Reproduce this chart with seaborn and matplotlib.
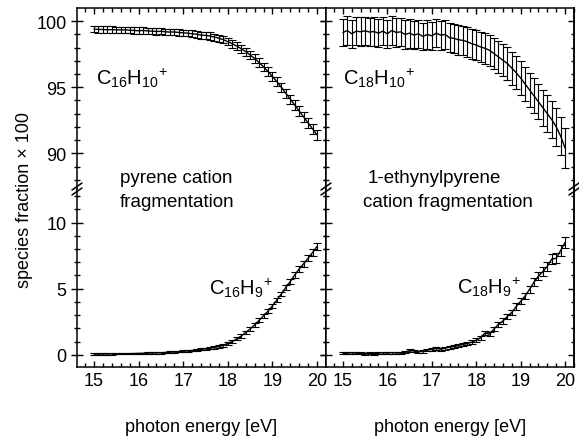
import numpy as np
import pandas as pd
import seaborn as sns
import matplotlib.pyplot as plt
from matplotlib.ticker import MultipleLocator
from matplotlib.lines import Line2D

# photon energy grid [eV]
energy = np.round(np.linspace(15, 20, 51), 1)

# pyrene cation: parent C16H10+ and fragment C16H9+
pyr_parent = [99.40, 99.38, 99.37, 99.36, 99.36, 99.35, 99.34, 99.35, 99.32, 99.30,
              99.28, 99.30, 99.27, 99.25, 99.22, 99.24, 99.20, 99.18, 99.19, 99.15,
              99.12, 99.10, 99.05, 99.02, 98.95, 98.93, 98.88, 98.80, 98.72, 98.60,
              98.45, 98.30, 98.12, 97.92, 97.70, 97.45, 97.18, 96.88, 96.55, 96.20,
              95.82, 95.42, 95.00, 94.55, 94.10, 93.65, 93.20, 92.75, 92.30, 91.85,
              91.40]
pyr_parent_err = [0.25, 0.25, 0.24, 0.25, 0.25, 0.24, 0.25, 0.25, 0.24, 0.25,
                  0.25, 0.24, 0.25, 0.25, 0.25, 0.24, 0.25, 0.25, 0.25, 0.25,
                  0.25, 0.25, 0.25, 0.26, 0.26, 0.26, 0.27, 0.27, 0.27, 0.28,
                  0.28, 0.29, 0.29, 0.30, 0.30, 0.31, 0.31, 0.32, 0.32, 0.33,
                  0.33, 0.34, 0.34, 0.35, 0.35, 0.36, 0.37, 0.38, 0.38, 0.39,
                  0.40]
pyr_frag = [0.05, 0.05, 0.05, 0.06, 0.06, 0.07, 0.07, 0.08, 0.08, 0.09,
            0.10, 0.11, 0.12, 0.13, 0.14, 0.15, 0.17, 0.19, 0.21, 0.23,
            0.26, 0.29, 0.32, 0.36, 0.40, 0.45, 0.50, 0.55, 0.62, 0.72,
            0.85, 1.00, 1.20, 1.42, 1.68, 1.95, 2.25, 2.60, 2.95, 3.30,
            3.70, 4.15, 4.60, 5.10, 5.55, 6.05, 6.50, 6.90, 7.30, 7.75,
            8.20]
pyr_frag_err = [0.05, 0.05, 0.05, 0.05, 0.05, 0.05, 0.05, 0.05, 0.05, 0.05,
                0.05, 0.05, 0.05, 0.05, 0.05, 0.06, 0.06, 0.06, 0.06, 0.06,
                0.07, 0.07, 0.07, 0.08, 0.08, 0.08, 0.09, 0.09, 0.10, 0.10,
                0.11, 0.11, 0.12, 0.12, 0.13, 0.13, 0.14, 0.15, 0.15, 0.16,
                0.17, 0.18, 0.18, 0.19, 0.20, 0.21, 0.22, 0.22, 0.23, 0.24,
                0.25]

# 1-ethynylpyrene cation: parent C18H10+ and fragment C18H9+
eth_parent = [99.15, 99.30, 99.05, 99.25, 99.20, 99.28, 99.18, 99.22, 99.10, 99.25,
              99.05, 99.30, 99.15, 99.20, 99.00, 99.10, 98.95, 99.05, 98.85, 99.00,
              98.90, 99.10, 98.95, 99.00, 98.75, 98.70, 98.60, 98.55, 98.45, 98.30,
              98.20, 98.05, 97.95, 97.80, 97.55, 97.30, 97.05, 96.80, 96.45, 96.10,
              95.70, 95.25, 94.80, 94.35, 93.90, 93.45, 93.00, 92.55, 92.00, 91.30,
              90.40]
eth_parent_err = [1.05, 1.10, 1.05, 1.08, 1.10, 1.05, 1.08, 1.10, 1.06, 1.08,
                  1.05, 1.10, 1.08, 1.05, 1.08, 1.10, 1.06, 1.08, 1.05, 1.10,
                  1.08, 1.06, 1.10, 1.08, 1.10, 1.10, 1.12, 1.10, 1.12, 1.15,
                  1.15, 1.15, 1.18, 1.18, 1.20, 1.20, 1.22, 1.22, 1.25, 1.25,
                  1.28, 1.28, 1.30, 1.32, 1.33, 1.35, 1.38, 1.40, 1.42, 1.45,
                  1.50]
eth_frag = [0.10, 0.12, 0.15, 0.12, 0.10, 0.08, 0.10, 0.07, 0.12, 0.15,
            0.12, 0.16, 0.14, 0.12, 0.20, 0.32, 0.28, 0.22, 0.25, 0.35,
            0.40, 0.48, 0.42, 0.50, 0.58, 0.62, 0.70, 0.78, 0.85, 0.95,
            1.10, 1.30, 1.65, 1.55, 1.95, 2.30, 2.55, 2.90, 3.20, 3.65,
            4.05, 4.45, 4.95, 5.50, 5.95, 6.30, 6.70, 7.25, 7.30, 7.90,
            8.50]
eth_frag_err = [0.08, 0.08, 0.08, 0.08, 0.08, 0.08, 0.08, 0.08, 0.08, 0.08,
                0.08, 0.08, 0.08, 0.08, 0.09, 0.09, 0.09, 0.09, 0.10, 0.10,
                0.10, 0.10, 0.11, 0.11, 0.11, 0.12, 0.12, 0.12, 0.13, 0.13,
                0.14, 0.15, 0.16, 0.17, 0.18, 0.19, 0.20, 0.21, 0.22, 0.23,
                0.24, 0.26, 0.27, 0.28, 0.30, 0.32, 0.34, 0.36, 0.38, 0.40,
                0.42]

sns.set_style('ticks', {'axes.edgecolor': 'black', 'xtick.color': 'black',
                        'ytick.color': 'black', 'text.color': 'black',
                        'axes.labelcolor': 'black'})
plt.rcParams['font.family'] = ['Liberation Sans', 'DejaVu Sans']
plt.rcParams['mathtext.fontset'] = 'custom'
plt.rcParams['mathtext.rm'] = 'Liberation Sans'
plt.rcParams['axes.linewidth'] = 1.1

FS = 13
W, H = 579, 439
top_px, brk_px, bot_px = 9.3, 190, 368
cols = [(77, 326), (326, 574)]


def draw(ax, y, yerr):
    df = pd.DataFrame({'energy': energy, 'value': y})
    sns.lineplot(data=df, x='energy', y='value', ax=ax, color='black', lw=1)
    ax.errorbar(energy, y, yerr=yerr, fmt='none', ecolor='black',
                elinewidth=0.8, capsize=3, capthick=0.8)
    ax.set_xlabel('')
    ax.set_ylabel('')


def style(ax, ylim, show_ylabels):
    ax.set_xlim(14.62, 20.2)
    ax.set_ylim(*ylim)
    ax.xaxis.set_major_locator(MultipleLocator(1))
    ax.xaxis.set_minor_locator(MultipleLocator(0.2))
    ax.yaxis.set_major_locator(MultipleLocator(5))
    ax.yaxis.set_minor_locator(MultipleLocator(1))
    ax.tick_params(axis='y', which='major', direction='inout', length=8, width=1,
                   labelsize=FS, labelleft=show_ylabels)
    ax.tick_params(axis='y', which='minor', direction='inout', length=5, width=1)
    sec = ax.secondary_yaxis('right')
    sec.yaxis.set_major_locator(MultipleLocator(5))
    sec.yaxis.set_minor_locator(MultipleLocator(1))
    sec.tick_params(which='major', direction='in', length=4, width=1, labelright=False)
    sec.tick_params(which='minor', direction='in', length=2.5, width=1)


fig = plt.figure(figsize=(W / 100, H / 100), dpi=100)

panels = [(pyr_parent, pyr_parent_err, pyr_frag, pyr_frag_err),
          (eth_parent, eth_parent_err, eth_frag, eth_frag_err)]

for ci, ((x0, x1), (yp, ep, yf, ef)) in enumerate(zip(cols, panels)):
    ax_t = fig.add_axes([x0 / W, 1 - brk_px / H, (x1 - x0) / W, (brk_px - top_px) / H])
    ax_b = fig.add_axes([x0 / W, 1 - bot_px / H, (x1 - x0) / W, (bot_px - brk_px) / H])
    draw(ax_t, yp, ep)
    draw(ax_b, yf, ef)
    style(ax_t, (87.3, 100.98), ci == 0)
    style(ax_b, (-0.93, 12.55), ci == 0)

    ax_t.spines['bottom'].set_visible(False)
    ax_t.tick_params(axis='x', which='both', bottom=False, top=True,
                     labelbottom=False, direction='in', width=1)
    ax_t.tick_params(axis='x', which='major', length=4)
    ax_t.tick_params(axis='x', which='minor', length=3)

    ax_b.spines['top'].set_visible(False)
    ax_b.tick_params(axis='x', which='both', bottom=True, top=False,
                     direction='in', width=1, labelsize=FS)
    ax_b.tick_params(axis='x', which='major', length=4)
    ax_b.tick_params(axis='x', which='minor', length=3)
    ax_b.set_xlabel('photon energy [eV]', fontsize=FS, labelpad=21)

# axis break marks
for xp in (77, 326, 574):
    for off in (-2.5, 2.5):
        xs = [(xp - 5) / W, (xp + 5) / W]
        ys = [1 - (brk_px + 3.5 + off) / H, 1 - (brk_px - 3.5 + off) / H]
        fig.add_artist(Line2D(xs, ys, transform=fig.transFigure, color='black', lw=1.1, zorder=10))


def px(x, y):
    return x / W, 1 - y / H


fig.text(*px(25, 200), 'species fraction \u00d7 100', rotation=90,
         ha='center', va='center', fontsize=FS)

fig.text(*px(96, 78), r'$\mathregular{C_{16}H_{10}{}^{+}}$', ha='left', va='center', fontsize=FS + 1.5)
fig.text(*px(343, 78), r'$\mathregular{C_{18}H_{10}{}^{+}}$', ha='left', va='center', fontsize=FS + 1.5)
fig.text(*px(209, 288), r'$\mathregular{C_{16}H_{9}{}^{+}}$', ha='left', va='center', fontsize=FS + 1.5)
fig.text(*px(457, 287), r'$\mathregular{C_{18}H_{9}{}^{+}}$', ha='left', va='center', fontsize=FS + 1.5)

fig.text(*px(120, 183), 'pyrene cation', ha='left', va='baseline', fontsize=FS + 0.5)
fig.text(*px(120, 207), 'fragmentation', ha='left', va='baseline', fontsize=FS + 0.5)
fig.text(*px(368, 183), '1-ethynylpyrene', ha='left', va='baseline', fontsize=FS + 0.5)
fig.text(*px(363, 207), 'cation fragmentation', ha='left', va='baseline', fontsize=FS + 0.5)

fig.savefig('out.png', dpi=100)
